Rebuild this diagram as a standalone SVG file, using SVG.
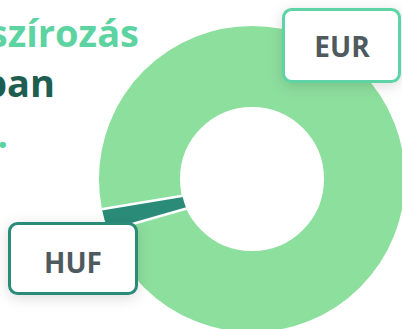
<svg xmlns="http://www.w3.org/2000/svg" width="402" height="329" viewBox="0 0 402 329">
  <defs>
    <filter id="shadow" x="-30%" y="-40%" width="160%" height="180%">
      <feDropShadow dx="0" dy="3" stdDeviation="7" flood-color="#000" flood-opacity="0.14"/>
    </filter>
    <style>
      .title { font-family: "Open Sans", "DejaVu Sans", sans-serif; font-weight: 700; font-size: 38px; }
      .light { fill: #5dd3a2; }
      .dark { fill: #1e5e50; }
      .label { font-family: "Open Sans", "DejaVu Sans", sans-serif; font-weight: 700; font-size: 28px; fill: #4f5a5e; text-anchor: middle; }
      .box { fill: #ffffff; stroke-width: 3; filter: url(#shadow); }
      .sep { stroke: #ffffff; stroke-width: 2.6; }
    </style>
  </defs>
  <rect width="402" height="329" fill="#ffffff"/>

  <g id="title">
    <text class="title light" x="139" y="47" text-anchor="end">szírozás</text>
    <text class="title dark" x="55" y="97" text-anchor="end">ban</text>
    <text class="title light" x="8" y="148" text-anchor="end">.</text>
  </g>

  <g id="donut">
    <circle id="slice-eur" cx="252" cy="179" r="112.5" fill="none" stroke="#8ddf9e" stroke-width="81"/>
    <path id="slice-huf" d="M 102 209.2 A 153 153 0 0 0 108.2 230.8 L 186.4 208.7 A 72 72 0 0 1 182.4 195.8 Z" fill="#2a8c78"/>
    <line class="sep" x1="100" y1="209.5" x2="184.4" y2="195.5"/>
    <line class="sep" x1="106.3" y1="231.4" x2="188.3" y2="208.1"/>
  </g>

  <g id="connectors"></g>

  <g id="eur">
    <rect class="box" x="283.5" y="9.5" width="116" height="72" rx="8" stroke="#5dd3a6"/>
    <text class="label" x="342" y="57">EUR</text>
  </g>

  <g id="huf">
    <rect class="box" x="9.5" y="223.5" width="127" height="70" rx="8" stroke="#2a8c78"/>
    <text class="label" x="73" y="273">HUF</text>
  </g>
</svg>
